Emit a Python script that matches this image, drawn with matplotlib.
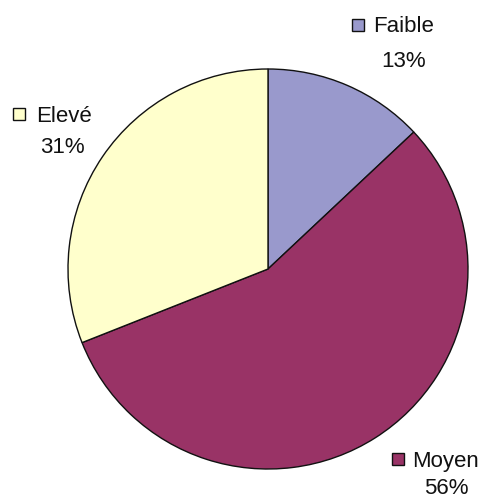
""" Pie chart of levels (Faible / Moyen / Elevé) """
import matplotlib.pyplot as plt
from matplotlib.patches import Rectangle

labels = ["Faible", "Moyen", "Elevé"]
shares = [13, 56, 31]
colors = ["#9999CC", "#993366", "#FFFFCC"]

# label layout in pixels from top-left:
# (key x, key centre y, name x, name baseline, percent centre x, percent baseline)
anchors = [(352, 24.5, 373, 32, 403.5, 66.5),
           (392, 459, 412, 467, 446, 494),
           (13, 114, 36, 122, 62.5, 152.5)]

W, H = 485, 499
FONT = ["Liberation Sans", "DejaVu Sans"]

fig = plt.figure(figsize=(W / 100, H / 100), dpi=100)
ax = fig.add_axes([0, 0, 1, 1])

ax.pie(shares, colors=colors, startangle=90, counterclock=False,
       center=(268, H - 269), radius=200,
       wedgeprops=dict(edgecolor="#111111", linewidth=1.0))
ax.set_xlim(0, W)
ax.set_ylim(0, H)
ax.set_aspect("equal")
ax.axis("off")

for lab, val, col, (kx, ky, tx, ty, px, py) in zip(labels, shares, colors,
                                                  anchors):
    ax.add_patch(Rectangle((kx, H - ky - 6), 12, 12, facecolor=col,
                           edgecolor="#111111", linewidth=1.0))
    ax.text(tx, H - ty, lab, ha="left", va="baseline", fontsize=16,
            family=FONT, color="#111111")
    ax.text(px, H - py, "%d%%" % val, ha="center", va="baseline",
            fontsize=16, family=FONT, color="#111111")

plt.savefig("out.png", dpi=100)
